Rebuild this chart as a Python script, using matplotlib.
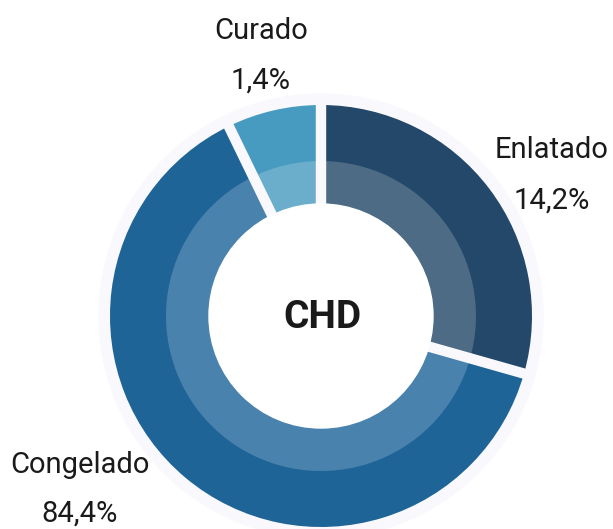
import numpy as np
import matplotlib.pyplot as plt
from matplotlib.patches import Circle

# slice sizes as drawn (share of the ring), and the printed labels
categories = ["Enlatado", "Congelado", "Curado"]
sizes = [29.4, 63.4, 7.2]
pct_labels = ["14,2%", "84,4%", "1,4%"]
outer_colors = ["#23486a", "#1f6497", "#479bc1"]
inner_colors = ["#4e6b85", "#4a82ae", "#6aaecb"]
center_label = "CHD"

font = ["Liberation Sans Narrow", "Roboto", "DejaVu Sans"]
bg_ring = "#f9f9fd"

fig = plt.figure(figsize=(6.13, 5.29), dpi=100)
ax = fig.add_axes([0, 0, 1, 1])

cx, cy = 321, 316
ax.add_patch(Circle((cx, cy), 222, color=bg_ring, zorder=0))

# y axis is flipped below, so start at -90 and go counterclockwise in data
ax.pie(sizes, colors=outer_colors, radius=211, center=(cx, cy),
       startangle=-90, counterclock=True, frame=True,
       wedgeprops=dict(width=99, linewidth=0))
ax.pie(sizes, colors=inner_colors, radius=155, center=(cx, cy),
       startangle=-90, counterclock=True, frame=True,
       wedgeprops=dict(width=43, linewidth=0))

# gaps between the slices
bounds = -90 + 360 * np.cumsum([0] + sizes[:-1]) / sum(sizes)
for a in np.radians(bounds):
    ax.plot([cx + 100 * np.cos(a), cx + 216 * np.cos(a)],
            [cy + 100 * np.sin(a), cy + 216 * np.sin(a)],
            color=bg_ring, lw=7.5, solid_capstyle="butt", zorder=4)
ax.add_patch(Circle((cx, cy), 112, color="white", zorder=5))

ax.set_xlim(0, 613)
ax.set_ylim(529, 0)
ax.set_aspect("equal")
ax.axis("off")

ax.text(cx + 1, cy + 2, center_label, ha="center", va="center", fontsize=28,
        fontweight="bold", family=font, color="#1a1a1a", zorder=6)

label_pos = {"Enlatado": (552, 150, 201), "Congelado": (80, 465, 514), "Curado": (261, 31, 81)}
for name, pct in zip(categories, pct_labels):
    x, y1, y2 = label_pos[name]
    ax.text(x, y1, name, ha="center", va="center", fontsize=21, family=font, color="#1a1a1a")
    ax.text(x, y2, pct, ha="center", va="center", fontsize=21, family=font, color="#1a1a1a")

fig.savefig("out.png", dpi=100, facecolor="white")
